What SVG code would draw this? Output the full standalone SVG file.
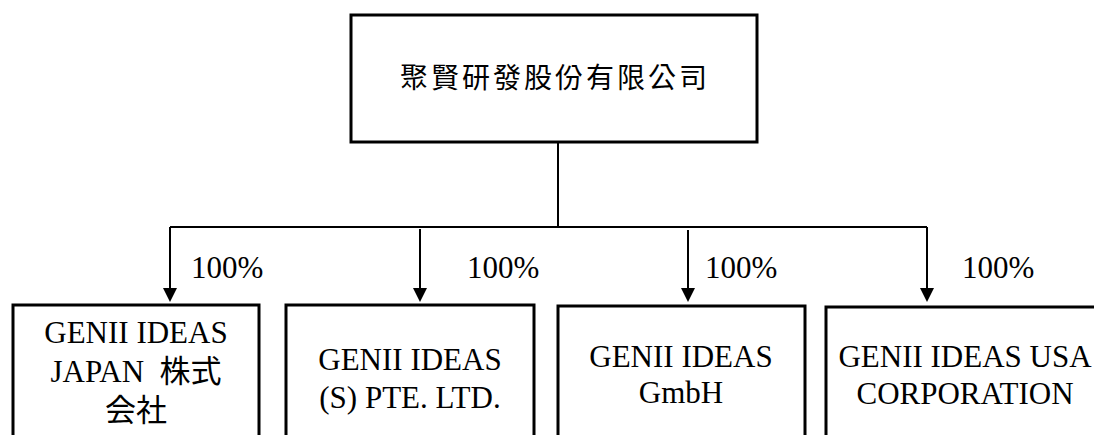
<svg xmlns="http://www.w3.org/2000/svg" width="1094" height="435" viewBox="0 0 1094 435">
<style>
.box{fill:#fff;stroke:#000;stroke-width:3}
.conn{fill:none;stroke:#000;stroke-width:2}
.en{font-family:"Liberation Serif","Noto Sans CJK JP",serif;font-size:31px;fill:#000;text-anchor:middle}
.zh{font-family:"Noto Sans CJK TC",sans-serif;font-size:28px;fill:#000;text-anchor:middle;letter-spacing:3px}
.pct{font-family:"Liberation Serif",serif;font-size:31px;fill:#000}
</style>
<defs>
<marker id="ah" markerUnits="userSpaceOnUse" markerWidth="14" markerHeight="14" refX="0" refY="7" orient="auto">
<path d="M0,0 L14,7 L0,14 z" fill="#000"/>
</marker>
</defs>
<g id="parent">
<rect class="box" x="351" y="15" width="406" height="127"/>
<text class="zh" x="555" y="88">聚賢研發股份有限公司</text>
</g>
<g id="connectors">
<path class="conn" d="M558,142 V227"/>
<path class="conn" d="M170,227 H927"/>
<path class="conn" d="M170,227 V288" marker-end="url(#ah)"/>
<path class="conn" d="M420,229 V288" marker-end="url(#ah)"/>
<path class="conn" d="M688,230 V288" marker-end="url(#ah)"/>
<path class="conn" d="M927,227 V288" marker-end="url(#ah)"/>
<text class="pct" x="191" y="278">100%</text>
<text class="pct" x="467" y="278">100%</text>
<text class="pct" x="705" y="278">100%</text>
<text class="pct" x="962" y="278">100%</text>
</g>
<g id="japan">
<rect class="box" x="13" y="305" width="246" height="150"/>
<text class="en" x="136" y="343">GENII IDEAS</text>
<text class="en" x="136" y="382" xml:space="preserve">JAPAN  株式</text>
<text class="en" x="136" y="421">会社</text>
</g>
<g id="singapore">
<rect class="box" x="286" y="305" width="248" height="150"/>
<text class="en" x="410" y="370">GENII IDEAS</text>
<text class="en" x="410" y="408">(S) PTE. LTD.</text>
</g>
<g id="germany">
<rect class="box" x="558" y="306" width="247" height="150"/>
<text class="en" x="681" y="367">GENII IDEAS</text>
<text class="en" x="681" y="403">GmbH</text>
</g>
<g id="usa">
<rect class="box" x="826" y="307" width="278" height="150"/>
<text class="en" x="965" y="367">GENII IDEAS USA</text>
<text class="en" x="965" y="404">CORPORATION</text>
</g>
</svg>
